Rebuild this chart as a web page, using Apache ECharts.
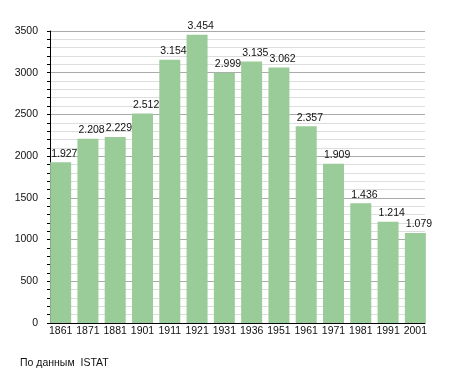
<!DOCTYPE html>
<html><head><meta charset="utf-8">
<script src="https://cdn.jsdelivr.net/npm/echarts@6/dist/echarts.min.js"></script>
<style>html,body{margin:0;padding:0;background:#fff}#c{width:455px;height:373px}</style>
</head><body><div id="c"></div>
<script>
var years = ['1861','1871','1881','1901','1911','1921','1931','1936','1951','1961','1971','1981','1991','2001'];
var population = [1927, 2208, 2229, 2512, 3154, 3454, 2999, 3135, 3062, 2357, 1909, 1436, 1214, 1079];
var yTicks = [0, 500, 1000, 1500, 2000, 2500, 3000, 3500];
var sourceNote = 'По данным  ISTAT';

var FONT = '"Liberation Sans", Arial, sans-serif';
var chart = echarts.init(document.getElementById('c'), null, {renderer: 'canvas'});
chart.setOption({
  animation: false,
  backgroundColor: '#fff',
  textStyle: {fontFamily: FONT},
  grid: [
    {left: 50, right: 30, top: 31, bottom: 50},
    {left: 47, right: 26, top: 31, bottom: 50}
  ],
  graphic: [{type: 'text', left: 20, top: 358, style: {text: sourceNote, font: '10.5px ' + FONT, fill: '#111'}}],
  xAxis: [
    {gridIndex: 0, type: 'category', data: years, axisLine: {show: true, lineStyle: {color: '#000', width: 1}},
     axisTick: {show: false}, axisLabel: {show: false}, splitLine: {show: false}},
    {gridIndex: 1, type: 'category', data: years, axisLine: {show: false}, axisTick: {show: false},
     axisLabel: {color: '#111', fontSize: 10.5, fontFamily: FONT, margin: 3, interval: 0}}
  ],
  yAxis: [
    {gridIndex: 0, type: 'value', min: yTicks[0], max: yTicks[yTicks.length - 1], interval: 500,
     axisLine: {show: true, lineStyle: {color: '#000'}},
     axisTick: {show: true, length: 3, lineStyle: {color: '#000'}},
     minorTick: {show: true, splitNumber: 5, length: 3, lineStyle: {color: '#000'}},
     axisLabel: {color: '#111', fontSize: 10.5, fontFamily: FONT, margin: 12, formatter: function (v) { return String(v); }},
     splitLine: {show: true, lineStyle: {color: '#aaa', width: 1}},
     minorSplitLine: {show: true, lineStyle: {color: '#ddd', width: 1}}},
    {gridIndex: 1, type: 'value', min: yTicks[0], max: yTicks[yTicks.length - 1], show: false}
  ],
  series: [{
    type: 'bar', xAxisIndex: 1, yAxisIndex: 1, data: population, barWidth: 21,
    itemStyle: {color: '#99cc99'},
    label: {show: true, position: 'top', distance: 3, align: 'left', offset: [-9.5, 0],
      color: '#111', fontSize: 10.5, fontFamily: FONT,
      formatter: function (p) { return String(p.value).replace(/\B(?=(\d{3})+(?!\d))/g, '.'); }}
  }]
});
</script></body></html>
